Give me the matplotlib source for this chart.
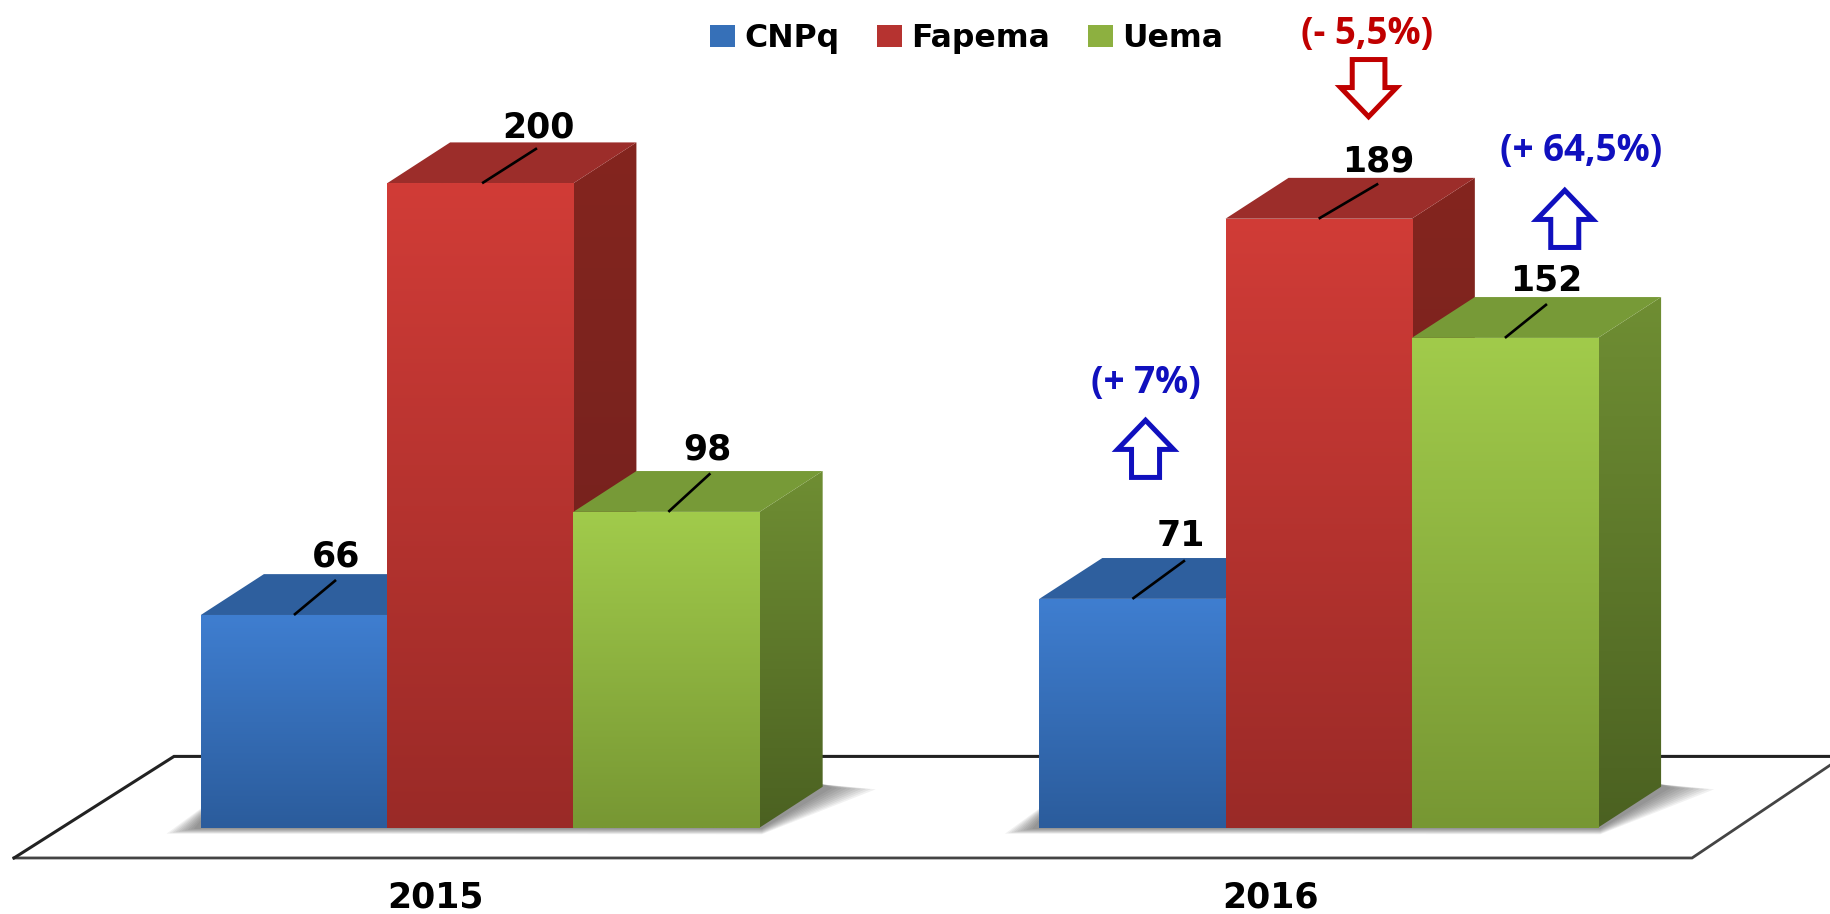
import numpy as np
import matplotlib
matplotlib.use("Agg")
import matplotlib.pyplot as plt
from matplotlib.colors import LinearSegmentedColormap
from matplotlib.patches import Polygon, Patch
from matplotlib.transforms import Affine2D

years = ["2015", "2016"]
series = ["CNPq", "Fapema", "Uema"]
cnpq = [66, 71]
fapema = [200, 189]
uema = [98, 152]
changes = ["(+ 7%)", "(- 5,5%)", "(+ 64,5%)"]

W, H, DPI = 1831, 914, 100
RW, RH = 1568, 783   # layout units
front = {"CNPq": ("#2B5C9C", "#3F7ED0"), "Fapema": ("#9A2A27", "#D13C37"), "Uema": ("#779733", "#A1CB4B")}
side = {"CNPq": ("#234B80", "#2A5A96"), "Fapema": ("#6E201D", "#84251F"), "Uema": ("#4B6121", "#6F8E33")}
topc = {"CNPq": "#2E5F9E", "Fapema": "#9C2D2A", "Uema": "#779A37"}
BLUE, RED = "#1010BE", "#C00000"

fig = plt.figure(figsize=(W / DPI, H / DPI), dpi=DPI)
ax = fig.add_axes([0, 0, 1, 1])
ax.axis("off")
BW, BASE, UY = 159.5, 709, 2.76
LEFT = [172, 890]
xl = (-172 / BW, (RW - 172) / BW)
yl = ((BASE - RH) / UY, BASE / UY)
tr = Affine2D().scale(W / RW, -H / RH).translate(0, H)   # layout units -> pixels
DX, DY = 54 / BW, 35 / UY
starts = [(l - 172) / BW for l in LEFT]
grad = np.linspace(0, 1, 256)[:, None]

# floor
ax.plot([12, 1449, 1568], [735, 735, 655], color="#444444", lw=2.0, transform=tr, clip_on=False, zorder=1, solid_joinstyle="miter")
ax.plot([12, 149, 1568], [735, 648, 648], color="#222222", lw=2.2, transform=tr, clip_on=False, zorder=1, solid_joinstyle="miter")

# soft shadow at the bases of each group
for l in LEFT:
    for k in range(10):
        e = k * 2.6
        poly = [(l - 6 - e, 710 + e * .18), (l + 3 * BW + 2, 710 + e * .2), (l + 3 * BW + 54 + 8 + e * 1.6, 675 + e * .05), (l + 3 * BW + 54, 672), (l + 10, 690 - e * .2)]
        ax.add_patch(Polygon(poly, closed=True, fc="#303030", ec="none", alpha=.065, transform=tr, zorder=2))


def vgrad(colors, extent, zorder, clip=None):
    cm = LinearSegmentedColormap.from_list("g", colors)
    im = ax.imshow(grad, cmap=cm, origin="lower", extent=extent, aspect="auto", zorder=zorder, interpolation="bilinear")
    if clip is not None:
        p = Polygon(clip, closed=True, transform=ax.transData, fc="none", ec="none")
        ax.add_patch(p)
        im.set_clip_path(p)
    return im


z = 3
for g, x0 in enumerate(starts):
    for i, (name, vals) in enumerate(zip(series, [cnpq, fapema, uema])):
        v = vals[g]
        x = x0 + i
        sp = [(x + 1, 0), (x + 1 + DX, DY), (x + 1 + DX, v + DY), (x + 1, v)]
        vgrad(side[name], (x + 1, x + 1 + DX, 0, v + DY), z, sp)
        ax.add_patch(Polygon([(x, v), (x + DX, v + DY), (x + 1 + DX, v + DY), (x + 1, v)], closed=True, fc=topc[name], ec="none", zorder=z))
        vgrad(front[name], (x, x + 1, 0, v), z + 1)
        z += 2
ax.set_xlim(*xl)
ax.set_ylim(*yl)

# value labels with leader lines (layout offsets relative to each bar)
lead = {(0, 0): (.50, 36, 30, 288, 477), (0, 1): (.51, 47, 30, 461, 109), (0, 2): (.51, 36, 33, 606, 385),
        (1, 0): (.50, 45, 33, 1011, 459), (1, 1): (.50, 51, 30, 1180, 138), (1, 2): (.50, 36, 29, 1324, 240)}
for g, x0 in enumerate(starts):
    for i, vals in enumerate([cnpq, fapema, uema]):
        v = vals[g]
        fx, ldx, ldy, tx, ty = lead[(g, i)]
        xs = x0 + i + fx
        ax.plot([xs, xs + ldx / BW], [v, v + ldy / UY], color="black", lw=1.9, zorder=90, solid_capstyle="butt")
        ax.text(tx, ty, str(v), transform=tr, ha="center", va="center", fontsize=25, fontweight="bold", family="DejaVu Sans", color="black", zorder=91)

# category labels
for yr, cx in zip(years, [373, 1088]):
    ax.text(cx, 769, yr, transform=tr, ha="center", va="center", fontsize=25, fontweight="bold", family="DejaVu Sans", color="black")

# change annotations
for txt, cx, cy, col in zip(changes, [981, 1171, 1354], [328, 29, 129], [BLUE, RED, BLUE]):
    ax.text(cx, cy, txt, transform=tr, ha="center", va="center", fontsize=26.5, fontweight="bold", family="Open Sans", color=col, zorder=95)


def block_arrow(cx, tip, direction, col, shaft):
    d = direction
    pts = [(cx, tip), (cx + 24, tip + d * 25), (cx + shaft, tip + d * 25), (cx + shaft, tip + d * 49),
           (cx - shaft, tip + d * 49), (cx - shaft, tip + d * 25), (cx - 24, tip + d * 25)]
    ax.add_patch(Polygon(pts, closed=True, fc="white", ec=col, lw=3.6, transform=tr, zorder=95, joinstyle="miter"))


block_arrow(981, 360, 1, BLUE, 12)
block_arrow(1172, 100, -1, RED, 14)
block_arrow(1340, 163, 1, BLUE, 12)

# legend
handles = [Patch(fc=c, ec="none", label=s) for s, c in zip(series, ["#3670B8", "#B63330", "#8DB040"])]
ax.legend(handles=handles, ncol=3, frameon=False, loc="center", bbox_to_anchor=(828 / RW, 1 - 33 / RH),
          prop={"family": "DejaVu Sans", "weight": "bold", "size": 22.7}, handlelength=.78, handleheight=.72,
          handletextpad=.3, columnspacing=1.2, borderpad=0)

fig.savefig("out.png", dpi=DPI, facecolor="white")
